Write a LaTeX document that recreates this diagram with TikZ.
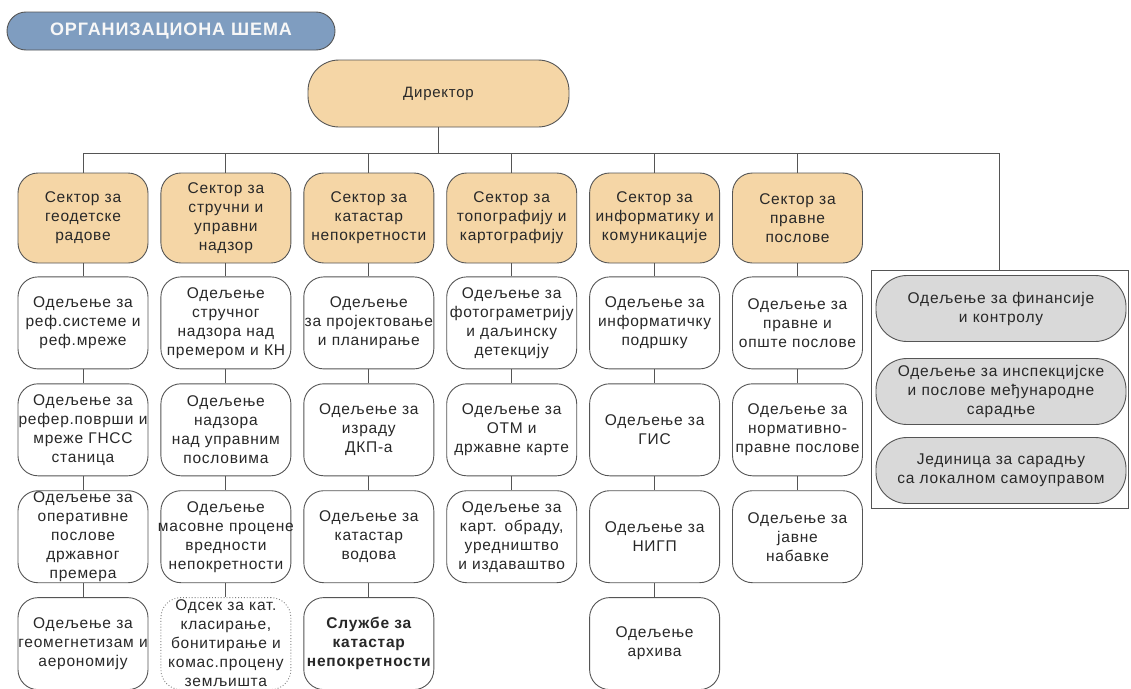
\documentclass[tikz,border=0pt]{standalone}
\usepackage{fontspec}
\setmainfont{Liberation Sans}[LetterSpace=5]
\usetikzlibrary{positioning}
\definecolor{sektorboja}{RGB}{245,214,166}
\definecolor{sivaboja}{RGB}{217,217,217}
\definecolor{naslovboja}{RGB}{127,157,192}
\definecolor{linija}{RGB}{85,85,85}
\definecolor{tekst}{RGB}{40,40,40}
\newcommand{\sirokred}[1]{\makebox[\linewidth]{#1}}
\tikzset{veza/.style={draw=linija, line width=.9pt}}
\tikzset{kutija/.style={draw=linija, line width=.9pt, rounded corners=20pt, text width=126pt, inner xsep=2pt, inner ysep=1pt, align=center, text=tekst, font=\fontsize{15.5}{19}\selectfont}}
\tikzset{sektor/.style={kutija, fill=sektorboja, minimum height=90pt}}
\tikzset{odeljenje/.style={kutija, fill=white, minimum height=92pt}}
\tikzset{jedinica/.style={kutija, fill=sivaboja, rounded corners=31pt, text width=246pt, minimum height=66pt}}

\begin{document}
\begin{tikzpicture}[x=1pt, y=-1pt]
    \useasboundingbox (0,0) rectangle (1131,688);
    \node[draw=linija, line width=.9pt, fill=naslovboja, rounded corners=19pt, minimum width=328pt, minimum height=38pt, text=white!94!gray, font=\bfseries\fontsize{18}{20}\selectfont] (naslov) at (171,31) {ОРГАНИЗАЦИОНА ШЕМА};
    \node[draw=linija, line width=.9pt, fill=sektorboja, rounded corners=31pt, minimum width=261pt, minimum height=67pt, text=tekst, font=\fontsize{15}{18}\selectfont] (dir) at (438.5,93.5) {Директор};
    \coordinate (bus) at (0,153);

    % sektori
    \node[sektor] (s1) at (83,218) {Сектор за\\геодетске\\радове};
    \node[sektor, right=12pt of s1] (s2) {Сектор за\\стручни и\\управни\\надзор};
    \node[sektor, right=12pt of s2] (s3) {Сектор за\\катастар\\непокретности};
    \node[sektor, right=12pt of s3] (s4) {Сектор за\\топографију и\\картографију};
    \node[sektor, right=12pt of s4] (s5) {Сектор за\\информатику и\\комуникације};
    \node[sektor, right=12pt of s5] (s6) {Сектор за\\правне\\послове};

    % odeljenja
    \node[odeljenje, below=13pt of s1] (o11) {Одељење за\\реф.системе и\\реф.мреже};
    \node[odeljenje, below=14pt of o11] (o12) {Одељење за\\\sirokred{рефер.површи и}\\мреже ГНСС\\станица};
    \node[odeljenje, below=14pt of o12] (o13) {Одељење за\\оперативне\\послове\\државног\\премера};
    \node[odeljenje, below=14pt of o13] (o14) {Одељење за\\\sirokred{геомегнетизам и}\\аерономију};

    \node[odeljenje, below=13pt of s2] (o21) {Одељење\\стручног\\надзора над\\\sirokred{премером и КН}};
    \node[odeljenje, below=14pt of o21] (o22) {Одељење\\надзора\\над управним\\пословима};
    \node[odeljenje, below=14pt of o22] (o23) {Одељење\\\sirokred{масовне процене}\\вредности\\непокретности};
    \node[odeljenje, draw=gray, dotted, below=14pt of o23] (o24) {Одсек за кат.\\класирање,\\бонитирање и\\комас.процену\\земљишта};

    \node[odeljenje, below=13pt of s3] (o31) {Одељење\\\sirokred{за пројектовање}\\и планирање};
    \node[odeljenje, below=14pt of o31] (o32) {Одељење за\\израду\\ДКП-а};
    \node[odeljenje, below=14pt of o32] (o33) {Одељење за\\катастар\\водова};
    \node[odeljenje, font=\fontsize{15.5}{19}\selectfont\bfseries, below=14pt of o33] (o34) {Службе за\\катастар\\непокретности};

    \node[odeljenje, below=13pt of s4] (o41) {Одељење за\\фотограметрију\\и даљинску\\детекцију};
    \node[odeljenje, below=14pt of o41] (o42) {Одељење за\\ОТМ и\\државне карте};
    \node[odeljenje, below=14pt of o42] (o43) {Одељење за\\карт. обраду,\\уредништво\\и издаваштво};

    \node[odeljenje, below=13pt of s5] (o51) {Одељење за\\информатичку\\подршку};
    \node[odeljenje, below=14pt of o51] (o52) {Одељење за\\ГИС};
    \node[odeljenje, below=14pt of o52] (o53) {Одељење за\\НИГП};
    \node[odeljenje, below=14pt of o53] (o54) {Одељење\\архива};

    \node[odeljenje, below=13pt of s6] (o61) {Одељење за\\правне и\\\sirokred{опште послове}};
    \node[odeljenje, below=14pt of o61] (o62) {Одељење за\\нормативно-\\\sirokred{правне послове}};
    \node[odeljenje, below=14pt of o62] (o63) {Одељење за\\јавне\\набавке};

    % jedinice uz direktora
    \node[draw=linija, line width=.9pt, minimum width=257pt, minimum height=238pt] (okvir) at (999.5,389) {};
    \node[jedinica] (j1) at (1001,308.5) {Одељење за финансије\\и контролу};
    \node[jedinica] (j2) at (1001,391.5) {\sirokred{Одељење за инспекцијске}\\и послове међународне\\сарадње};
    \node[jedinica] (j3) at (1001,470.5) {Јединица за сарадњу\\са локалном самоуправом};

    % veze
    \draw[veza] (dir.south) -- (dir.south |- bus);
    \draw[veza] (s1.north) -- (s1.north |- bus) -- (okvir.north |- bus) -- (okvir.north);
    \draw[veza] (s2.north) -- (s2.north |- bus);
    \draw[veza] (s3.north) -- (s3.north |- bus);
    \draw[veza] (s4.north) -- (s4.north |- bus);
    \draw[veza] (s5.north) -- (s5.north |- bus);
    \draw[veza] (s6.north) -- (s6.north |- bus);
    \draw[veza] (s1) -- (o11) (o11) -- (o12) (o12) -- (o13) (o13) -- (o14);
    \draw[veza] (s2) -- (o21) (o21) -- (o22) (o22) -- (o23) (o23) -- (o24);
    \draw[veza] (s3) -- (o31) (o31) -- (o32) (o32) -- (o33) (o33) -- (o34);
    \draw[veza] (s4) -- (o41) (o41) -- (o42) (o42) -- (o43);
    \draw[veza] (s5) -- (o51) (o51) -- (o52) (o52) -- (o53) (o53) -- (o54);
    \draw[veza] (s6) -- (o61) (o61) -- (o62) (o62) -- (o63);
\end{tikzpicture}
\end{document}
